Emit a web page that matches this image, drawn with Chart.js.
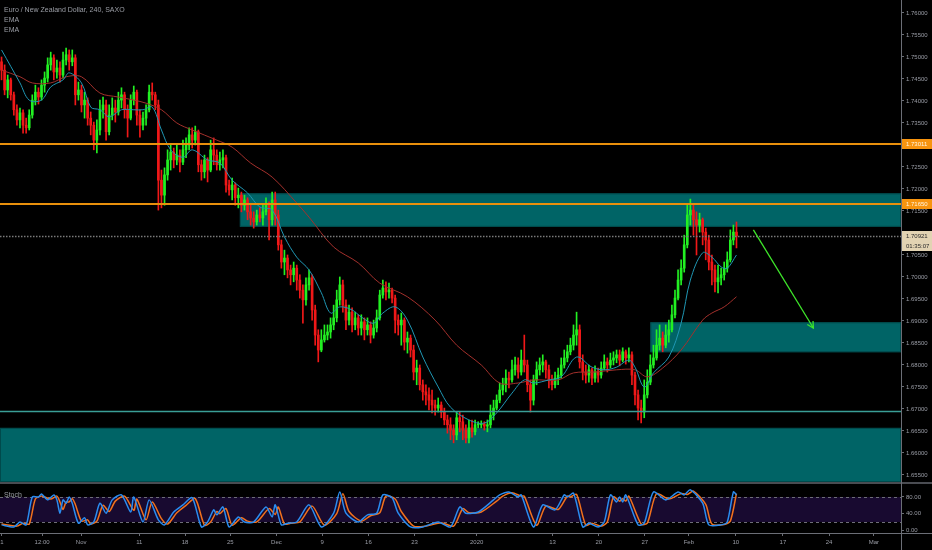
<!DOCTYPE html>
<html>
<head>
<meta charset="utf-8">
<script src="https://cdn.jsdelivr.net/npm/chart.js@4.4.1/dist/chart.umd.min.js"></script>
<style>
  body { margin: 0; background: #000; }
  #wrap { position: relative; width: 932px; height: 550px; background: #000; overflow: hidden; }
  #main { position: absolute; left: 0; top: 0; }
  #stoch { position: absolute; left: 0; top: 484px; }
  .legend { position: absolute; left: 4px; color: #9b9ea6; font: 7px "Liberation Sans", Arial, sans-serif; line-height: 10px; white-space: nowrap; }
</style>
</head>
<body>
<div id="wrap">
  <canvas id="main" width="932" height="484"></canvas>
  <canvas id="stoch" width="932" height="66"></canvas>
  <div class="legend" style="top:5px">Euro / New Zealand Dollar, 240, SAXO<br>EMA<br>EMA</div>
  <div class="legend" style="top:490px">Stoch</div>
</div>
<script>
// 4h-ish candles (open = previous close)
const firstOpen = 1.7489;
const closes = [
  1.7470,1.7425,1.7448,1.7414,1.7380,1.7357,1.7373,1.7345,1.7339,1.7368,
  1.7402,1.7420,1.7409,1.7436,1.7452,1.7482,1.7498,1.7466,1.7475,1.7459,
  1.7493,1.7505,1.7489,1.7498,1.7414,1.7425,1.7391,1.7402,1.7361,1.7345,
  1.7311,1.7334,1.7380,1.7391,1.7330,1.7368,1.7384,1.7375,1.7402,1.7414,
  1.7380,1.7361,1.7402,1.7420,1.7368,1.7345,1.7361,1.7380,1.7420,1.7414,
  1.7391,1.7220,1.7186,1.7232,1.7266,1.7284,1.7266,1.7277,1.7261,1.7289,
  1.7300,1.7323,1.7311,1.7330,1.7255,1.7239,1.7266,1.7243,1.7289,1.7277,
  1.7255,1.7266,1.7271,1.7209,1.7198,1.7209,1.7180,1.7186,1.7163,1.7175,
  1.7148,1.7134,1.7125,1.7141,1.7134,1.7148,1.7163,1.7130,1.7175,1.7141,
  1.7073,1.7034,1.7043,1.7016,1.7005,1.7020,1.6993,1.6970,1.6948,1.6982,
  1.6998,1.6925,1.6868,1.6834,1.6857,1.6868,1.6875,1.6891,1.6907,1.6948,
  1.6982,1.6936,1.6902,1.6920,1.6891,1.6907,1.6884,1.6898,1.6880,1.6891,
  1.6868,1.6884,1.6907,1.6959,1.6975,1.6966,1.6970,1.6952,1.6902,1.6891,
  1.6902,1.6852,1.6861,1.6834,1.6784,1.6793,1.6755,1.6739,1.6732,1.6720,
  1.6709,1.6702,1.6709,1.6693,1.6675,1.6664,1.6652,1.6641,1.6680,1.6671,
  1.6652,1.6634,1.6657,1.6648,1.6664,1.6664,1.6666,1.6661,1.6664,1.6686,
  1.6702,1.6720,1.6743,1.6755,1.6770,1.6766,1.6789,1.6800,1.6784,1.6811,
  1.6800,1.6755,1.6720,1.6766,1.6789,1.6800,1.6807,1.6789,1.6766,1.6755,
  1.6770,1.6777,1.6800,1.6816,1.6830,1.6845,1.6868,1.6880,1.6807,1.6784,
  1.6777,1.6789,1.6770,1.6784,1.6777,1.6793,1.6807,1.6800,1.6811,1.6816,
  1.6823,1.6811,1.6830,1.6816,1.6823,1.6777,1.6732,1.6702,1.6693,1.6732,
  1.6761,1.6800,1.6816,1.6845,1.6861,1.6845,1.6868,1.6880,1.6914,1.6952,
  1.6993,1.7020,1.7073,1.7141,1.7152,1.7130,1.7118,1.7130,1.7102,1.7084,
  1.7034,1.7016,1.6989,1.6998,1.7005,1.7020,1.7039,1.7084,1.7102,1.7093
];
const highs = [
  1.7500,1.7482,1.7459,1.7452,1.7420,1.7391,1.7384,1.7380,1.7361,1.7380,
  1.7414,1.7436,1.7430,1.7448,1.7466,1.7498,1.7511,1.7505,1.7493,1.7489,
  1.7511,1.7520,1.7516,1.7516,1.7505,1.7443,1.7436,1.7420,1.7407,1.7375,
  1.7352,1.7357,1.7402,1.7409,1.7402,1.7391,1.7407,1.7402,1.7420,1.7430,
  1.7420,1.7391,1.7414,1.7434,1.7425,1.7380,1.7375,1.7391,1.7436,1.7441,
  1.7420,1.7402,1.7243,1.7248,1.7289,1.7300,1.7293,1.7300,1.7289,1.7311,
  1.7316,1.7339,1.7339,1.7343,1.7334,1.7266,1.7277,1.7271,1.7311,1.7316,
  1.7289,1.7284,1.7289,1.7277,1.7220,1.7225,1.7214,1.7202,1.7193,1.7186,
  1.7180,1.7163,1.7148,1.7152,1.7157,1.7163,1.7180,1.7171,1.7193,1.7193,
  1.7152,1.7084,1.7061,1.7050,1.7027,1.7034,1.7027,1.7005,1.6982,1.6998,
  1.7016,1.7005,1.6936,1.6880,1.6880,1.6891,1.6891,1.6907,1.6936,1.6970,
  1.7000,1.6993,1.6948,1.6936,1.6930,1.6920,1.6914,1.6914,1.6907,1.6907,
  1.6898,1.6902,1.6925,1.6970,1.6993,1.6989,1.6986,1.6975,1.6959,1.6914,
  1.6918,1.6907,1.6875,1.6868,1.6845,1.6811,1.6800,1.6766,1.6755,1.6748,
  1.6743,1.6720,1.6725,1.6716,1.6702,1.6686,1.6680,1.6664,1.6693,1.6693,
  1.6686,1.6664,1.6675,1.6675,1.6675,1.6671,1.6673,1.6671,1.6675,1.6709,
  1.6720,1.6732,1.6759,1.6770,1.6789,1.6784,1.6811,1.6818,1.6816,1.6834,
  1.6868,1.6811,1.6766,1.6777,1.6807,1.6816,1.6823,1.6811,1.6800,1.6777,
  1.6784,1.6793,1.6816,1.6834,1.6845,1.6861,1.6891,1.6920,1.6891,1.6823,
  1.6800,1.6800,1.6793,1.6798,1.6793,1.6807,1.6823,1.6816,1.6827,1.6830,
  1.6834,1.6834,1.6839,1.6834,1.6839,1.6830,1.6784,1.6743,1.6720,1.6766,
  1.6789,1.6823,1.6845,1.6880,1.6891,1.6875,1.6891,1.6902,1.6936,1.6970,
  1.7016,1.7039,1.7095,1.7163,1.7177,1.7163,1.7148,1.7145,1.7134,1.7111,
  1.7095,1.7050,1.7027,1.7027,1.7020,1.7034,1.7057,1.7107,1.7118,1.7125
];
const lows = [
  1.7448,1.7414,1.7407,1.7402,1.7368,1.7345,1.7339,1.7327,1.7327,1.7334,
  1.7361,1.7391,1.7393,1.7402,1.7420,1.7443,1.7470,1.7448,1.7452,1.7443,
  1.7452,1.7482,1.7470,1.7480,1.7391,1.7402,1.7375,1.7361,1.7345,1.7323,
  1.7289,1.7282,1.7323,1.7361,1.7311,1.7323,1.7357,1.7352,1.7368,1.7384,
  1.7361,1.7318,1.7357,1.7391,1.7345,1.7318,1.7334,1.7345,1.7375,1.7402,
  1.7380,1.7152,1.7157,1.7163,1.7220,1.7243,1.7248,1.7255,1.7239,1.7255,
  1.7271,1.7289,1.7293,1.7300,1.7239,1.7220,1.7225,1.7216,1.7239,1.7255,
  1.7243,1.7243,1.7248,1.7193,1.7186,1.7175,1.7163,1.7157,1.7148,1.7152,
  1.7130,1.7118,1.7111,1.7118,1.7125,1.7118,1.7141,1.7084,1.7118,1.7118,
  1.7061,1.7020,1.7005,1.6998,1.6982,1.6989,1.6970,1.6952,1.6895,1.6936,
  1.6970,1.6902,1.6845,1.6807,1.6830,1.6852,1.6857,1.6861,1.6880,1.6898,
  1.6936,1.6920,1.6880,1.6891,1.6875,1.6880,1.6868,1.6868,1.6857,1.6868,
  1.6850,1.6861,1.6875,1.6902,1.6952,1.6948,1.6952,1.6941,1.6873,1.6868,
  1.6845,1.6834,1.6827,1.6818,1.6766,1.6755,1.6743,1.6720,1.6709,1.6698,
  1.6691,1.6686,1.6693,1.6680,1.6664,1.6645,1.6630,1.6623,1.6630,1.6648,
  1.6630,1.6623,1.6623,1.6636,1.6641,1.6657,1.6657,1.6652,1.6648,1.6657,
  1.6675,1.6698,1.6714,1.6732,1.6739,1.6748,1.6761,1.6777,1.6770,1.6777,
  1.6784,1.6739,1.6693,1.6709,1.6755,1.6777,1.6784,1.6770,1.6748,1.6743,
  1.6748,1.6755,1.6770,1.6793,1.6807,1.6823,1.6834,1.6845,1.6793,1.6766,
  1.6759,1.6761,1.6755,1.6761,1.6761,1.6770,1.6789,1.6784,1.6793,1.6800,
  1.6805,1.6798,1.6807,1.6802,1.6807,1.6755,1.6709,1.6675,1.6668,1.6680,
  1.6725,1.6755,1.6793,1.6811,1.6834,1.6830,1.6839,1.6852,1.6875,1.6907,
  1.6948,1.6982,1.7011,1.7066,1.7118,1.7095,1.7050,1.7102,1.7073,1.7039,
  1.7016,1.6982,1.6966,1.6964,1.6982,1.6993,1.7011,1.7034,1.7073,1.7066
];

// EMA lines, sampled along the bar index
const fastEmaIdx = [0,6,9,13,16,20,22,26,29,32,35,39,43,46,49,52,55,59,62,67,71,75,80,84,88,92,96,100,104,107,110,114,117,121,124,128,132,137,142,146,152,157,161,166,170,173,178,182,187,192,196,200,204,206,209,212,217,221,224,228,231,234,236,239];
const fastEmaVal = [1.7516,1.7441,1.7402,1.7402,1.7432,1.7448,1.7464,1.7441,1.7386,1.7380,1.7364,1.7380,1.7380,1.7380,1.7386,1.7334,1.7289,1.7272,1.7289,1.7266,1.7259,1.7220,1.7191,1.7159,1.7152,1.7091,1.7045,1.7016,1.6964,1.6918,1.6932,1.6925,1.6909,1.6895,1.6918,1.6932,1.6902,1.6818,1.6750,1.6704,1.6675,1.6668,1.6691,1.6736,1.6766,1.6759,1.6766,1.6773,1.6818,1.6795,1.6789,1.6795,1.6811,1.6795,1.6750,1.6782,1.6818,1.6895,1.6993,1.7055,1.7045,1.7023,1.7020,1.7050];
const slowEmaIdx = [0,6,10,16,21,26,32,38,43,47,52,57,62,70,75,81,88,96,100,108,116,123,132,141,148,156,162,168,173,181,186,193,200,206,210,215,221,228,231,235,239];
const slowEmaVal = [1.7470,1.7455,1.7441,1.7441,1.7455,1.7455,1.7418,1.7409,1.7402,1.7395,1.7380,1.7350,1.7334,1.7311,1.7295,1.7259,1.7227,1.7168,1.7136,1.7068,1.7032,1.6986,1.6955,1.6902,1.6845,1.6800,1.6759,1.6759,1.6766,1.6766,1.6782,1.6784,1.6789,1.6789,1.6773,1.6793,1.6834,1.6902,1.6918,1.6932,1.6955];

// Stochastic %K / %D
const kIdx = [0,4,6,8,10,12,13,15,17,18,19,20,21,22,23,25,27,28,30,32,34,36,39,42,43,46,48,51,53,56,59,62,65,67,69,70,72,74,77,79,82,86,88,89,91,93,96,100,104,108,110,112,116,119,122,124,127,129,133,137,142,146,149,151,155,160,162,165,168,169,173,176,180,183,184,186,189,191,194,196,198,200,201,202,203,207,209,212,216,220,222,224,228,230,234,236,238,239];
const kVal = [13,8,20,13,80,80,87,73,85,73,41,73,65,80,65,17,30,13,20,65,41,73,85,44,80,20,73,25,13,44,61,78,8,20,49,37,56,8,32,20,20,56,32,61,13,17,20,61,8,41,92,41,20,37,41,85,78,41,8,8,20,8,56,41,44,73,85,92,80,85,8,61,49,85,80,89,8,17,8,20,85,68,80,68,85,13,17,92,73,92,85,97,65,13,13,20,92,85];
const dIdx = [0,5,7,9,11,13,14,16,18,19,20,21,22,23,24,26,28,29,31,33,35,37,40,43,44,47,49,52,54,57,60,63,66,68,70,71,73,75,78,80,83,87,89,90,92,94,97,101,105,109,111,113,117,120,123,125,128,130,134,138,143,147,150,152,156,161,163,166,169,170,174,177,181,184,185,187,190,192,195,197,199,201,202,203,204,208,210,213,217,221,223,225,229,231,235,237,239];
const dVal = [15,10,17,15,75,82,80,75,82,68,50,68,68,76,62,22,25,15,22,60,45,70,82,48,75,25,68,28,15,42,60,76,12,20,45,40,52,12,30,22,20,52,38,56,15,17,20,58,12,40,88,45,22,35,42,82,75,45,10,10,18,10,52,42,44,70,82,90,82,82,12,58,50,82,80,86,12,17,10,20,80,70,76,70,82,15,17,88,75,88,86,94,62,15,14,22,88];

// drawings on the price panel
const orangeLevels = [1.73011, 1.71650];
const supportLevel = 1.6694;
const lastPrice = 1.70921;
const countdown = '01:35:07';
const zoneFrom = [77.5, 211, -0.5];
const zoneTop = [1.7190, 1.6897, 1.6657];
const zoneBottom = [1.7114, 1.6829, 1.6534];
const arrowIdx = [244.5, 264];
const arrowPrice = [1.7107, 1.6884];

// axes
const priceTicks = [1.655,1.66,1.665,1.67,1.675,1.68,1.685,1.69,1.695,1.70,1.705,1.71,1.715,1.72,1.725,1.73,1.735,1.74,1.745,1.75,1.755,1.76];
const stochTicks = [0, 40, 80];
const timeTickIdx = [0.15,13.2,25.9,44.8,59.7,74.4,89.4,104.3,119.3,134.3,154.5,179.2,194.2,209.2,223.5,238.8,254.1,269.1,283.7];
const timeTickText = ['1','12:00','Nov','11','18','25','Dec','9','16','23','2020','13','20','27','Feb','10','17','24','Mar'];

const UP = '#22f022';
const DOWN = '#f01818';
const AXIS_TEXT = '#9a9da6';
const AXIS_LINE = '#6b6e76';
const FONT = { family: '"Liberation Sans", Arial, sans-serif', size: 6 };

const opens = closes.map((c, i) => i === 0 ? firstOpen : closes[i - 1]);
const candleColor = (ctx) => closes[ctx.dataIndex] >= opens[ctx.dataIndex] ? UP : DOWN;
const toPts = (idx, val) => idx.map((x, i) => ({ x: x, y: val[i] }));

// no extra room for edge labels, the panels sit flush
const noPad = s => { s.paddingTop = 0; s.paddingBottom = 0; s.paddingLeft = 0; s.paddingRight = 0; };
const xRange = { type: 'linear', min: -0.5, max: 292.5, offset: false };

const panelDrawings = {
  id: 'panelDrawings',
  beforeDatasetsDraw(chart) {
    const { ctx, chartArea: a, scales: { x, y } } = chart;
    ctx.save();
    ctx.fillStyle = '#006466';
    ctx.strokeStyle = '#004a4c';
    ctx.lineWidth = 1;
    zoneFrom.forEach((f, i) => {
      const l = Math.max(a.left, x.getPixelForValue(f));
      const t = y.getPixelForValue(zoneTop[i]);
      const b = Math.min(a.bottom, y.getPixelForValue(zoneBottom[i]));
      ctx.fillRect(l, t, a.right - l, b - t);
      ctx.strokeRect(l + 0.5, t + 0.5, a.right - l - 1, b - t - 1);
    });
    ctx.restore();
  },
  afterDatasetsDraw(chart) {
    const { ctx, chartArea: a, scales: { x, y } } = chart;
    ctx.save();
    // support line
    ctx.strokeStyle = '#3a9e96';
    ctx.lineWidth = 1.5;
    let py = y.getPixelForValue(supportLevel);
    ctx.beginPath(); ctx.moveTo(a.left, py); ctx.lineTo(a.right, py); ctx.stroke();
    // orange levels
    ctx.strokeStyle = '#e8900c';
    ctx.lineWidth = 2;
    orangeLevels.forEach(v => {
      const p = Math.round(y.getPixelForValue(v));
      ctx.beginPath(); ctx.moveTo(a.left, p); ctx.lineTo(a.right, p); ctx.stroke();
    });
    // last price dotted line
    ctx.strokeStyle = '#7a7a7a';
    ctx.lineWidth = 1.5;
    ctx.setLineDash([1.5, 1.5]);
    py = Math.round(y.getPixelForValue(lastPrice)) + 0.5;
    ctx.beginPath(); ctx.moveTo(a.left, py); ctx.lineTo(a.right, py); ctx.stroke();
    ctx.setLineDash([]);
    // arrow
    const x0 = x.getPixelForValue(arrowIdx[0]), y0 = y.getPixelForValue(arrowPrice[0]);
    const x1 = x.getPixelForValue(arrowIdx[1]), y1 = y.getPixelForValue(arrowPrice[1]);
    const ang = Math.atan2(y1 - y0, x1 - x0);
    ctx.strokeStyle = '#3ee62a';
    ctx.lineWidth = 1.3;
    ctx.beginPath(); ctx.moveTo(x0, y0); ctx.lineTo(x1, y1); ctx.stroke();
    ctx.beginPath();
    ctx.moveTo(x1 - 7 * Math.cos(ang - 0.5), y1 - 7 * Math.sin(ang - 0.5));
    ctx.lineTo(x1, y1);
    ctx.lineTo(x1 - 7 * Math.cos(ang + 0.5), y1 - 7 * Math.sin(ang + 0.5));
    ctx.stroke();
    ctx.restore();
  },
  afterDraw(chart) {
    const { ctx, chartArea: a, scales: { y } } = chart;
    ctx.save();
    // panel separator and axis line
    ctx.fillStyle = '#4a4c52';
    ctx.fillRect(0, a.bottom, chart.width, 2);
    ctx.fillStyle = AXIS_LINE;
    ctx.fillRect(a.right, 0, 1, chart.height);
    ctx.font = '6px "Liberation Sans", Arial, sans-serif';
    ctx.textBaseline = 'middle';
    const tag = (v, txt, bg, fg, dy) => {
      const p = Math.round(y.getPixelForValue(v)) + dy;
      ctx.fillStyle = bg;
      ctx.fillRect(a.right + 1, p - 5, 30, 10);
      ctx.fillStyle = fg;
      ctx.fillText(txt, a.right + 5, p + 0.5);
    };
    orangeLevels.forEach(v => tag(v, v.toFixed(5), '#f7940f', '#fff4e0', 0));
    tag(lastPrice, lastPrice.toFixed(5), '#e2d3b3', '#2a2a2a', 0);
    tag(lastPrice, countdown, '#e2d3b3', '#2a2a2a', 10);
    ctx.restore();
  }
};

new Chart(document.getElementById('main'), {
  type: 'bar',
  data: {
    datasets: [
      {
        type: 'line', data: toPts(fastEmaIdx, fastEmaVal), borderColor: '#1f97b4',
        borderWidth: 1, pointRadius: 0, tension: 0.35, order: 0
      },
      {
        type: 'line', data: toPts(slowEmaIdx, slowEmaVal), borderColor: '#a3302c',
        borderWidth: 1, pointRadius: 0, tension: 0.35, order: 0
      },
      {
        data: closes.map((c, i) => ({ x: i, y: [lows[i], highs[i]] })),
        backgroundColor: candleColor, barThickness: 1, grouped: false, order: 2
      },
      {
        data: closes.map((c, i) => ({ x: i, y: [opens[i], c] })),
        backgroundColor: candleColor, barThickness: 2, minBarLength: 1, grouped: false, order: 1
      }
    ]
  },
  options: {
    responsive: false,
    animation: false,
    events: [],
    layout: { padding: { top: 0, left: 0, right: 0, bottom: 2 } },
    plugins: { legend: { display: false }, tooltip: { enabled: false } },
    scales: {
      x: Object.assign({ display: false }, xRange),
      y: {
        position: 'right',
        min: 1.6534,
        max: 1.76295,
        afterBuildTicks: s => { s.ticks = priceTicks.map(v => ({ value: v })); },
        afterFit: s => { s.width = 31; noPad(s); },
        ticks: { color: AXIS_TEXT, font: FONT, padding: 2, callback: v => v.toFixed(5) },
        grid: { drawOnChartArea: false, tickLength: 3, color: AXIS_LINE },
        border: { color: AXIS_LINE }
      }
    }
  },
  plugins: [panelDrawings]
});

const stochBand = {
  id: 'stochBand',
  beforeDatasetsDraw(chart) {
    const { ctx, chartArea: a, scales: { y } } = chart;
    const t = y.getPixelForValue(80), b = y.getPixelForValue(20);
    ctx.save();
    ctx.fillStyle = '#180a30';
    ctx.fillRect(a.left, t, a.right - a.left, b - t);
    ctx.strokeStyle = '#6e6e78';
    ctx.lineWidth = 1;
    ctx.setLineDash([3, 3]);
    [t, b].forEach(p => {
      ctx.beginPath(); ctx.moveTo(a.left, Math.round(p) + 0.5); ctx.lineTo(a.right, Math.round(p) + 0.5); ctx.stroke();
    });
    ctx.restore();
  },
  afterDraw(chart) {
    const { ctx, chartArea: a } = chart;
    ctx.save();
    ctx.fillStyle = AXIS_LINE;
    ctx.fillRect(a.right, 0, 1, chart.height);
    ctx.fillRect(0, a.bottom, chart.width, 1);
    ctx.restore();
  }
};

new Chart(document.getElementById('stoch'), {
  type: 'line',
  data: {
    datasets: [
      { data: toPts(kIdx, kVal), borderColor: '#2a8cf0', borderWidth: 1.5, pointRadius: 0, tension: 0.25 },
      { data: toPts(dIdx, dVal), borderColor: '#f2711c', borderWidth: 1.5, pointRadius: 0, tension: 0.25 }
    ]
  },
  options: {
    responsive: false,
    animation: false,
    events: [],
    layout: { padding: { top: 1, left: 0, right: 0, bottom: 0 } },
    plugins: { legend: { display: false }, tooltip: { enabled: false } },
    scales: {
      x: Object.assign({
        afterBuildTicks: s => { s.ticks = timeTickIdx.map(v => ({ value: v })); },
        afterFit: s => { s.height = 17; noPad(s); },
        ticks: { color: AXIS_TEXT, font: FONT, padding: 3, maxRotation: 0, autoSkip: false, callback: (v, i) => timeTickText[i] },
        grid: { drawOnChartArea: false, tickLength: 3, color: AXIS_LINE },
        border: { color: AXIS_LINE }
      }, xRange),
      y: {
        position: 'right',
        min: -6.5,
        max: 108.7,
        afterBuildTicks: s => { s.ticks = stochTicks.map(v => ({ value: v })); },
        afterFit: s => { s.width = 31; noPad(s); },
        ticks: { color: AXIS_TEXT, font: FONT, padding: 2, callback: v => v.toFixed(2) },
        grid: { drawOnChartArea: false, tickLength: 3, color: AXIS_LINE },
        border: { color: AXIS_LINE }
      }
    }
  },
  plugins: [stochBand]
});
</script>
</body>
</html>
